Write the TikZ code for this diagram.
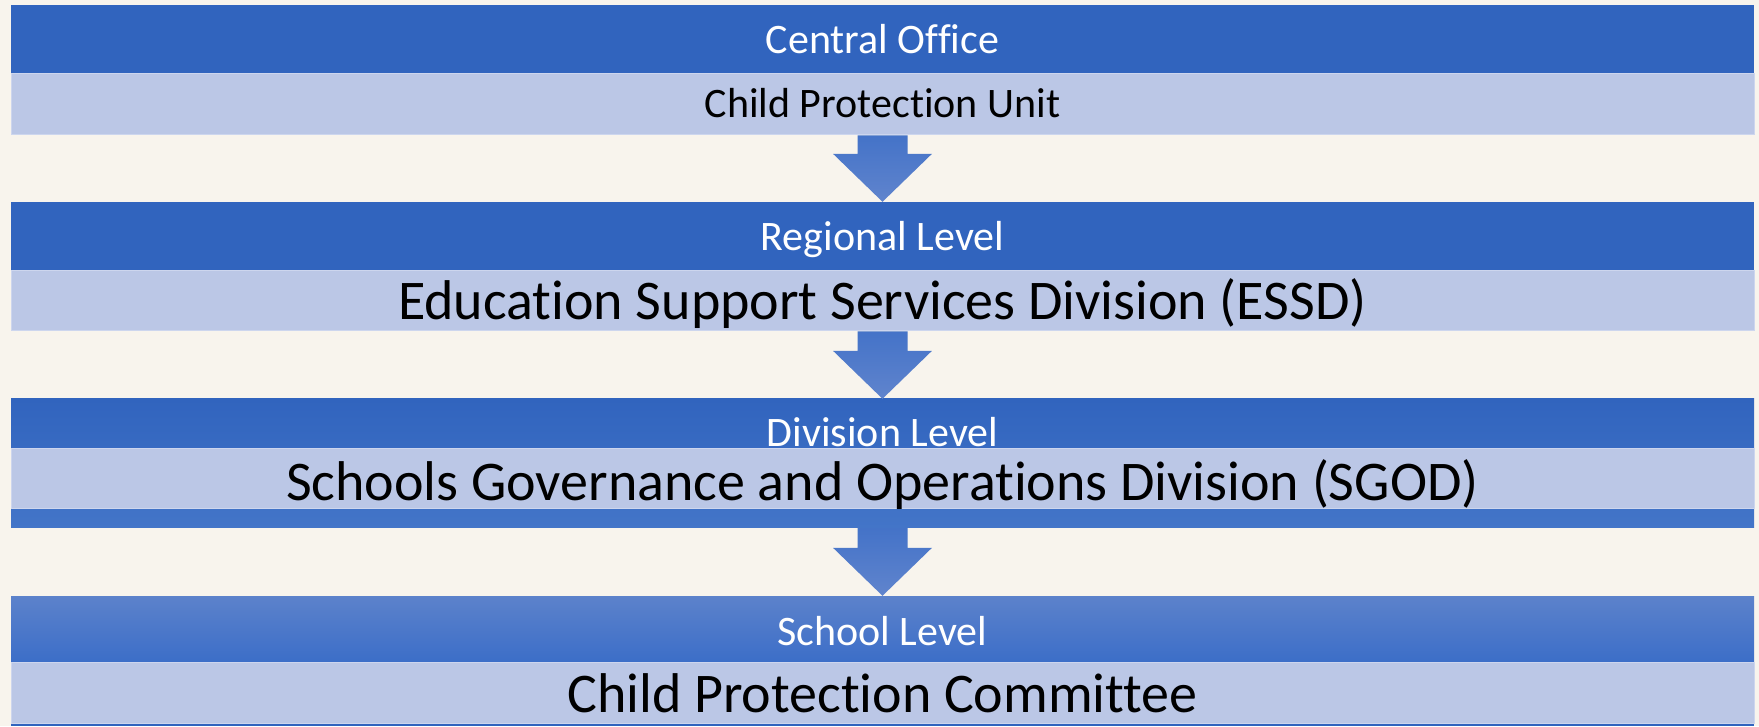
\documentclass[tikz,border=0pt]{standalone}
\usepackage{fontspec}
\setmainfont{Carlito}[Ligatures=NoCommon]
\usepackage{tikz}
\usepackage{xcolor}
\usetikzlibrary{calc}

\definecolor{bgcream}{RGB}{248,244,237}
\definecolor{banddark}{RGB}{49,100,190}
\definecolor{bandlight}{RGB}{187,199,230}
\definecolor{bandedge}{RGB}{205,214,238}
\definecolor{arrowtop}{RGB}{68,115,200}
\definecolor{arrowbot}{RGB}{96,132,205}

% block arrow from the bottom of one band to the top of the next
\newcommand{\levelarrow}[2]{%
    \shade[arrowfill] ($(#1.south)+(-25,0)$) -- ($(#1.south)+(25,0)$) |- ($(#2.north)+(49.5,48)$)
        -- (#2.north) -- ($(#2.north)+(-49.5,48)$) -| ($(#1.south)+(-25,0)$) -- cycle;
}

\begin{document}
\begin{tikzpicture}[x=1pt,y=1pt,
    band/.style={rectangle,inner sep=0pt,minimum width=1743pt,text depth=0pt},
    head/.style={band,fill=banddark,text=white,font=\fontsize{42}{48}\selectfont,text height=29pt},
    body/.style={band,fill=bandlight,draw=bandedge,line width=1pt,text=black,font=\fontsize{56}{64}\selectfont,text height=38pt},
    arrowfill/.style={top color=arrowtop,bottom color=arrowbot}]
    % background
    \path[use as bounding box,fill=bgcream] (0,0) rectangle (1759,726);
    % central office
    \node[head,minimum height=69pt] (co) at (882.5,686.5) {Central Office};
    \node[body,minimum height=61pt,font=\fontsize{42}{48}\selectfont,text height=27pt] (cpu) at (882.5,621.5) {Child Protection Unit};
    % regional level
    \node[head,minimum height=69pt] (rl) at (882.5,489.5) {Regional Level};
    \node[body,minimum height=60pt] (essd) at (882.5,425) {Education Support Services Division (ESSD)};
    % division level
    \node[head,minimum height=129pt,top color=banddark,bottom color={rgb,255:red,67;green,117;blue,200},
        text height=0pt,text depth=33pt] (dl) at (882.5,262.5) {Division Level};
    \node[body,minimum height=60pt,text height=44pt] (sgod) at (882.5,247) {Schools Governance and Operations Division (SGOD)};
    % school level
    \node[head,minimum height=66pt,top color={rgb,255:red,92;green,130;blue,203},
        bottom color={rgb,255:red,60;green,110;blue,200},text height=32pt] (sl) at (882.5,97) {School Level};
    \fill[banddark] (11,0) rectangle (1754,3);
    \node[body,minimum height=61pt,text height=39pt] (cpc) at (882.5,33.5) {Child Protection Committee};
    % arrows
    \levelarrow{cpu}{rl}
    \levelarrow{essd}{dl}
    \levelarrow{dl}{sl}
\end{tikzpicture}
\end{document}
